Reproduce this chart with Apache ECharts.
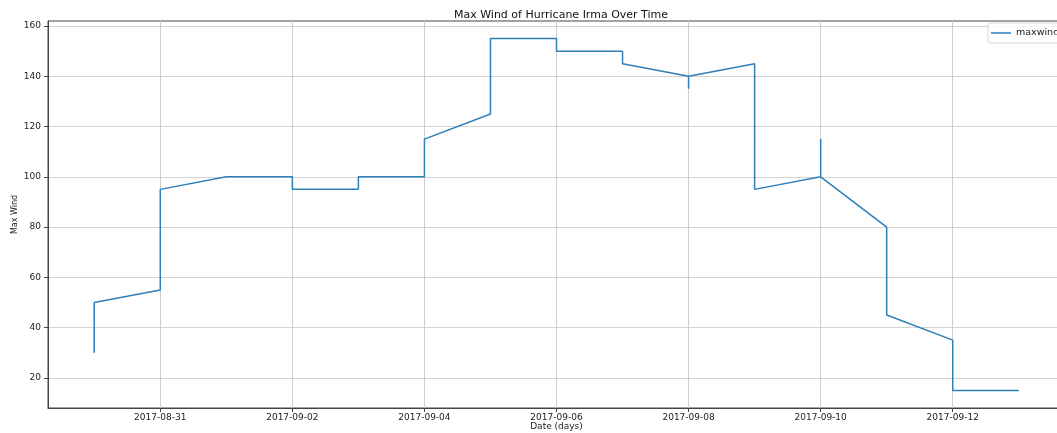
<!DOCTYPE html>
<html>
<head>
<meta charset="utf-8">
<script src="https://cdn.jsdelivr.net/npm/echarts@6/dist/echarts.min.js"></script>
<style>
  html, body { margin: 0; padding: 0; background: #fff; }
  #chart { width: 1057px; height: 433px; }
</style>
</head>
<body>
<div id="chart"></div>
<script>
// Irma advisory max wind readings (knots), several readings per day
const dates = [
  '2017-08-30', '2017-08-30',
  '2017-08-31', '2017-08-31',
  '2017-09-01',
  '2017-09-02', '2017-09-02',
  '2017-09-03', '2017-09-03',
  '2017-09-04', '2017-09-04',
  '2017-09-05', '2017-09-05',
  '2017-09-06', '2017-09-06',
  '2017-09-07', '2017-09-07',
  '2017-09-08', '2017-09-08', '2017-09-08',
  '2017-09-09', '2017-09-09',
  '2017-09-10', '2017-09-10', '2017-09-10',
  '2017-09-11', '2017-09-11',
  '2017-09-12', '2017-09-12',
  '2017-09-13'
];
const maxwind = [
  30, 50,
  55, 95,
  100,
  100, 95,
  95, 100,
  100, 115,
  125, 155,
  155, 150,
  150, 145,
  140, 135, 140,
  145, 95,
  100, 115, 100,
  80, 45,
  35, 15,
  15
];
const xTickDates = ['2017-08-31', '2017-09-02', '2017-09-04', '2017-09-06', '2017-09-08', '2017-09-10', '2017-09-12'];
const yTicks = [20, 40, 60, 80, 100, 120, 140, 160];

const toMs = s => Date.parse(s + 'T00:00:00Z');
const pad = n => (n < 10 ? '0' : '') + n;
const fmtDate = v => {
  const d = new Date(v);
  return d.getUTCFullYear() + '-' + pad(d.getUTCMonth() + 1) + '-' + pad(d.getUTCDate());
};

const points = dates.map((d, i) => [toMs(d), maxwind[i]]);
const xs = points.map(p => p[0]);
const ys = maxwind;
const xSpan = Math.max(...xs) - Math.min(...xs);
const ySpan = Math.max(...ys) - Math.min(...ys);
// 5% padding on each side of the data range
const xMin = Math.min(...xs) - 0.05 * xSpan;
const xMax = Math.max(...xs) + 0.05 * xSpan;
const yMin = Math.min(...ys) - 0.05 * ySpan;
const yMax = Math.max(...ys) + 0.05 * ySpan;
const xTicks = xTickDates.map(toMs);

const FONT = 'DejaVu Sans';
const chart = echarts.init(document.getElementById('chart'), null, { renderer: 'canvas' });
chart.setOption({
  animation: false,
  backgroundColor: '#ffffff',
  textStyle: { fontFamily: FONT },
  title: {
    text: 'Max Wind of Hurricane Irma Over Time',
    left: 556, top: 5, textAlign: 'center',
    textStyle: { fontFamily: FONT, fontSize: 11, fontWeight: 'normal', color: '#111' }
  },
  legend: {
    data: ['maxwind'],
    left: 988, top: 23,
    orient: 'vertical',
    icon: 'path://M0,0 L20,0 L20,1.5 L0,1.5 Z',
    itemWidth: 20, itemHeight: 2, itemGap: 4,
    padding: [5, 8, 5, 3],
    borderColor: '#d6d6d6', borderWidth: 1, borderRadius: 3,
    backgroundColor: 'rgba(255,255,255,0.8)',
    textStyle: { fontFamily: FONT, fontSize: 9.5, color: '#222' }
  },
  grid: {
    left: 48, right: -8, top: 21, bottom: 25,
    containLabel: false, outerBoundsMode: 'none',
    show: true, borderColor: '#444', borderWidth: 1, backgroundColor: 'transparent'
  },
  xAxis: {
    type: 'value',
    min: xMin, max: xMax,
    name: 'Date (days)', nameLocation: 'middle', nameGap: 14, nameMoveOverlap: false,
    nameTextStyle: { fontFamily: FONT, fontSize: 9, color: '#222' },
    axisLine: { onZero: false, lineStyle: { color: '#444', width: 1 } },
    axisTick: { show: true, customValues: xTicks, length: 4, lineStyle: { color: '#444' } },
    axisLabel: { customValues: xTicks, formatter: v => fmtDate(v), fontFamily: FONT, fontSize: 9, color: '#222', margin: 5 },
    splitLine: { show: true, lineStyle: { color: '#cfcfcf', width: 1 } }
  },
  yAxis: {
    type: 'value',
    min: yMin, max: yMax,
    name: 'Max Wind', nameLocation: 'middle', nameGap: 29, nameRotate: 90, nameMoveOverlap: false,
    nameTextStyle: { fontFamily: FONT, fontSize: 8, color: '#222' },
    axisLine: { show: true, onZero: false, lineStyle: { color: '#444', width: 1 } },
    axisTick: { show: true, customValues: yTicks, length: 4, lineStyle: { color: '#444' } },
    axisLabel: { customValues: yTicks, fontFamily: FONT, fontSize: 9, color: '#222', margin: 7 },
    splitLine: { show: true, lineStyle: { color: '#d4d4d4', width: 1 } }
  },
  series: [{
    name: 'maxwind',
    type: 'line',
    data: points,
    showSymbol: false,
    symbol: 'none',
    color: '#2c7fb8',
    lineStyle: { color: '#2c7fb8', width: 1.5 }
  }]
});
</script>
</body>
</html>
